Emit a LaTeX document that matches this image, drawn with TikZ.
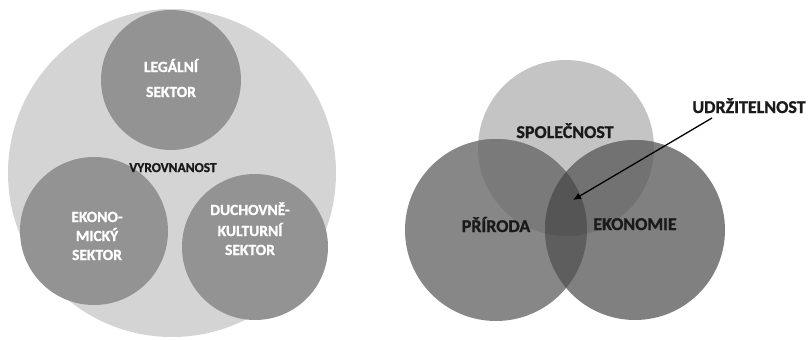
\documentclass[tikz,border=0pt]{standalone}
\usepackage{fontspec}
\setmainfont{Carlito}[BoldFont={Carlito Bold},BoldFeatures={FakeBold=1.2}]
\usetikzlibrary{arrows.meta}
\definecolor{bigfill}{HTML}{D4D4D4}
\definecolor{smallfill}{HTML}{939393}
\definecolor{sfill}{HTML}{C4C4C4}
\definecolor{pfill}{HTML}{878787}
\definecolor{efill}{HTML}{808080}
\definecolor{spfill}{HTML}{7A7A7A}
\definecolor{sefill}{HTML}{727272}
\definecolor{pefill}{HTML}{5E5E5E}
\definecolor{spefill}{HTML}{555555}
\definecolor{txtdark}{HTML}{1A1A1A}
\begin{document}
\begin{tikzpicture}[x=1pt,y=-1pt,
  disc/.style={circle, inner sep=0pt, draw=none},
  wlbl/.style={font=\bfseries\fontsize{15.5}{18}\selectfont, text=white, anchor=base, inner sep=0pt},
  dlbl/.style={font=\bfseries\fontsize{18}{21}\selectfont, text=txtdark, anchor=base, inner sep=0pt},
  vlbl/.style={font=\bfseries\fontsize{13.5}{15}\selectfont, text=txtdark, anchor=base, inner sep=0pt}]
\useasboundingbox (0,0) rectangle (809,340);
% ---------- left diagram ----------
\node[disc, fill=bigfill, minimum size=328pt] (big) at (172,173) {};
\node[disc, fill=smallfill, minimum size=140pt] (legal) at (171,80) {};
\node[disc, fill=smallfill, minimum size=148pt] (ekon) at (94,231) {};
\node[disc, fill=smallfill, minimum size=146pt] (duch) at (255,247) {};
\node[vlbl] (vyr) at (173,172) {VYROVNANOST};
\node[wlbl] (leg1) at (171,72) {LEGÁLNÍ};
\node[wlbl] (leg2) at (171,97) {SEKTOR};
\node[wlbl] (eko1) at (97,222) {EKONO-};
\node[wlbl] (eko2) at (97,241) {MICKÝ};
\node[wlbl] (eko3) at (97,260) {SEKTOR};
\node[wlbl] (duc1) at (250,215) {DUCHOVNĚ-};
\node[wlbl] (duc2) at (250,236) {KULTURNÍ};
\node[wlbl] (duc3) at (250,255) {SEKTOR};
% ---------- right diagram ----------
\def\Sc{(566,148) circle (88)}
\def\Pc{(496,230) circle (91)}
\def\Ec{(635,230) circle (90)}
\node[disc, fill=sfill, minimum size=176pt] (spol) at (566,148) {};
\node[disc, fill=pfill, minimum size=182pt] (prir) at (496,230) {};
\node[disc, fill=efill, minimum size=180pt] (ekonm) at (635,230) {};
\begin{scope}
  \clip \Sc;
  \fill[spfill] \Pc;
  \fill[sefill] \Ec;
\end{scope}
\begin{scope}
  \clip \Pc;
  \fill[pefill] \Ec;
  \clip \Ec;
  \fill[spefill] \Sc;
\end{scope}
\node[dlbl] (spolt) at (565,138) {SPOLEČNOST};
\node[dlbl] (prirt) at (496,232) {PŘÍRODA};
\node[dlbl] (ekont) at (635,230) {EKONOMIE};
\node[dlbl] (udr) at (749,113) {UDRŽITELNOST};
\coordinate (astart) at (712,118);
\coordinate (atip) at (573,200);
\draw[line width=1.3pt, -{Latex[length=8pt,width=7pt]}] (astart) -- (atip);
\end{tikzpicture}
\end{document}
